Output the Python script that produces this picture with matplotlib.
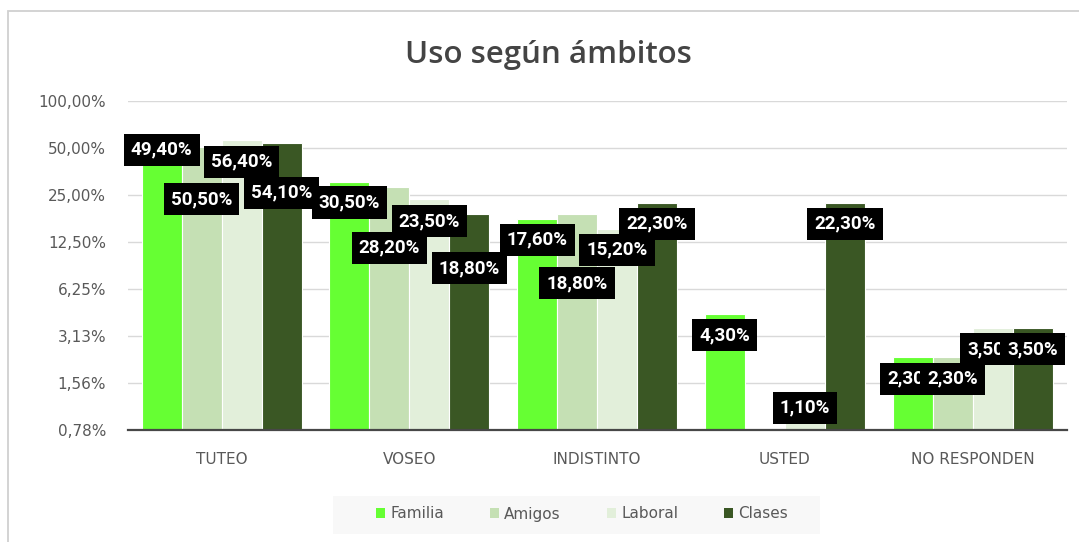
import numpy as np
import matplotlib
matplotlib.use("Agg")
from matplotlib import pyplot as plt
from matplotlib.patches import Patch, Rectangle

# data (percent)
categories = ["TUTEO", "VOSEO", "INDISTINTO", "USTED", "NO RESPONDEN"]
series_names = ["Familia", "Amigos", "Laboral", "Clases"]
familia = [49.4, 30.5, 17.6, 4.3, 2.3]
amigos = [50.5, 28.2, 18.8, 0.0, 2.3]
laboral = [56.4, 23.5, 15.2, 1.1, 3.5]
clases = [54.1, 18.8, 22.3, 22.3, 3.5]
y_ticks = [100 / 128, 100 / 64, 100 / 32, 100 / 16, 100 / 8, 100 / 4, 100 / 2, 100]
y_tick_labels = ["0,78%", "1,56%", "3,13%", "6,25%", "12,50%", "25,00%", "50,00%", "100,00%"]

colors = ["#66FF33", "#C5E0B4", "#E2EFDA", "#3A5724"]
# how far (pixels) each data label sits below its bar top, as in the original
label_drop = [
    [1, 21, 21, 21, 22],
    [52, 61, 69, 0, 22],
    [22, 22, 21, 1, 21],
    [50, 54, 21, 21, 21],
]

W, H = 1079, 542
fig = plt.figure(figsize=(W / 100, H / 100), dpi=100)
fig.patch.set_facecolor("white")

# chart area border (cut off on the right/bottom like the screenshot)
fig.add_artist(Rectangle((8 / W, -0.05), 1.2, (1 - 11 / H) + 0.05, transform=fig.transFigure,
                         fill=False, edgecolor="#D0D0D0", lw=1.3, clip_on=False))

ax = fig.add_axes([127.7 / W, 1 - 430 / H, 939 / W, 329 / H])
ax.set_yscale("log", base=2)

values = [familia, amigos, laboral, clases]
x = np.arange(len(categories))
bw = 0.213
for j, vals in enumerate(values):
    xs = x + (j - 1.5) * bw
    ax.bar(xs, vals, width=bw, color=colors[j], edgecolor="white", linewidth=0.8, zorder=2)

# data labels in a second pass so boxes sit above all bars
for j, vals in enumerate(values):
    xs = x + (j - 1.5) * bw
    for i, v in enumerate(vals):
        if v <= 0:
            continue
        txt = f"{v:.2f}".replace(".", ",") + "%"
        ax.annotate(txt, xy=(xs[i], v), xytext=(0, -label_drop[j][i]), textcoords="offset pixels",
                    ha="center", va="center", color="white", fontsize=13.5, fontweight="bold",
                    family="Roboto", zorder=5, annotation_clip=False,
                    bbox=dict(boxstyle="square,pad=0.38", facecolor="black", edgecolor="none"))

ax.set_ylim(y_ticks[0], y_ticks[-1])
ax.set_xlim(-0.5, len(categories) - 0.5)
ax.set_yticks(y_ticks)
ax.set_yticklabels(y_tick_labels)
ax.yaxis.set_minor_locator(matplotlib.ticker.NullLocator())
ax.set_xticks(x)
ax.set_xticklabels(categories)
ax.tick_params(axis="y", length=0, pad=15.5, labelsize=11, labelcolor="#595959")
ax.tick_params(axis="x", length=0, pad=15.5, labelsize=11, labelcolor="#595959")
ax.grid(axis="y", color="#D9D9D9", lw=1.0, zorder=0)
ax.set_axisbelow(True)
for s in ["top", "right", "left"]:
    ax.spines[s].set_visible(False)
ax.spines["bottom"].set_color("#474747")
ax.spines["bottom"].set_linewidth(1.6)
ax.spines["bottom"].set_zorder(3)

fig.text(548 / W, 1 - 62.7 / H, "Uso según ámbitos", ha="center", va="baseline",
         fontsize=22.5, color="#444444", family="Open Sans", fontweight="semibold")

# legend on a light grey strip
fig.add_artist(Rectangle((333 / W, 1 - 534 / H), 487 / W, 38 / H, transform=fig.transFigure,
                         facecolor="#F8F8F8", edgecolor="none"))
handles = [Patch(facecolor=c, edgecolor="none") for c in colors]
leg = fig.legend(handles, series_names, loc="center", bbox_to_anchor=(582 / W, 1 - 514 / H),
                 ncol=4, frameon=False, fontsize=11, handlelength=0.6, handleheight=0.6,
                 handletextpad=0.35, columnspacing=3.0, borderpad=0)
for t in leg.get_texts():
    t.set_color("#595959")

fig.savefig("out.png", dpi=100)
